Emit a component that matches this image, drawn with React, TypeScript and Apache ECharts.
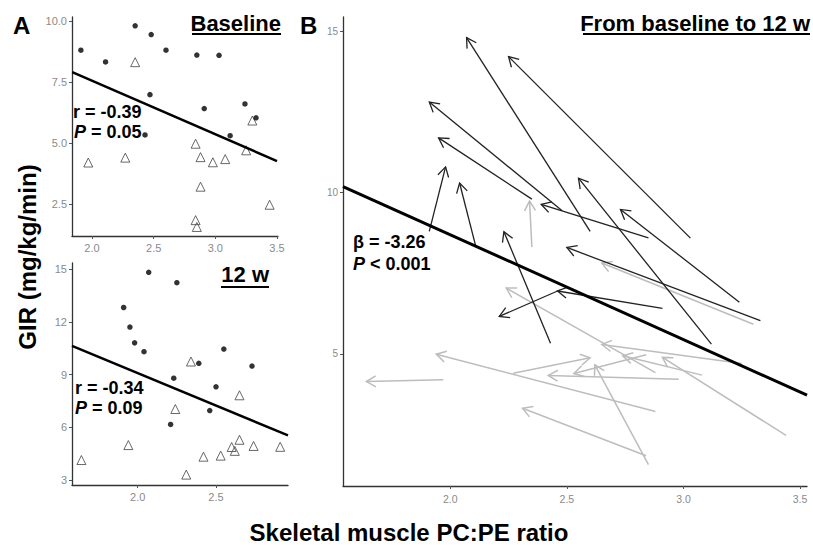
import React, { useEffect, useRef } from 'react';
import * as echarts from 'echarts';

// Intervention group (filled dots / dark arrows): baseline -> 12 w
const darkBaseX = [2.60, 3.03, 2.48, 2.35, 2.85, 1.91, 2.11, 3.12, 3.24, 2.43, 2.47, 2.91, 3.33];
const darkBaseY = [8.80, 8.59, 9.44, 9.80, 8.60, 8.80, 8.32, 5.30, 6.60, 5.33, 6.98, 6.41, 6.03];
const darkW12X = [2.07, 2.25, 1.91, 1.95, 2.39, 1.98, 2.04, 2.55, 2.73, 2.23, 2.21, 2.46, 2.50];
const darkW12Y = [14.81, 14.22, 12.81, 11.70, 9.64, 10.80, 10.30, 10.45, 9.48, 8.79, 6.16, 6.95, 8.30];

// Control group (open triangles / grey arrows): baseline -> 12 w
const greyBaseX = [2.35, 3.30, 2.88, 1.97, 2.88, 2.84, 2.85, 3.44, 2.98, 2.27, 3.25, 2.84, 3.08];
const greyBaseY = [8.31, 5.92, 4.42, 4.20, 3.21, 1.84, 1.56, 2.47, 4.21, 4.40, 4.70, 4.97, 4.34];
const greyW12X = [2.34, 2.65, 2.24, 1.64, 1.94, 2.31, 2.62, 2.91, 2.42, 2.60, 2.65, 2.53, 2.74];
const greyW12Y = [9.74, 7.82, 7.04, 4.14, 4.99, 3.31, 4.66, 4.89, 4.33, 4.88, 5.29, 4.39, 4.94];

// Fitted lines (end points)
const fitBaselineX = [1.84, 3.50];
const fitBaselineY = [7.90, 4.26];
const fitW12X = [1.58, 2.96];
const fitW12Y = [10.63, 5.54];
const fitChangeX = [1.54, 3.53];
const fitChangeY = [10.19, 3.72];

// Tick values
const ticksAtopX = [2.0, 2.5, 3.0, 3.5];
const ticksAtopY = [2.5, 5.0, 7.5, 10.0];
const ticksAbotX = [2.0, 2.5];
const ticksAbotY = [3, 6, 9, 12, 15];
const ticksBX = [2.0, 2.5, 3.0, 3.5];
const ticksBY = [5, 10, 15];

const FONT = '"Liberation Sans", Arial, Helvetica, sans-serif';
const zip = (a: number[], b: number[]) => a.map((v, i) => [v, b[i]]);
const zip4 = (a: number[], b: number[], c: number[], d: number[]) =>
  a.map((v, i) => [v, b[i], c[i], d[i]]);

function axisBase(custom: number[], fmt: (v: number) => string, fontSize: number, margin: number) {
  return {
    type: 'value',
    splitLine: { show: false },
    axisLine: { show: true, onZero: false, lineStyle: { color: '#333', width: 1.3 } },
    axisTick: { show: true, length: 3, customValues: custom, lineStyle: { color: '#555', width: 1 } },
    axisLabel: {
      customValues: custom,
      formatter: (v: number) => fmt(v),
      color: '#8a8a8a',
      fontSize,
      fontFamily: FONT,
      margin,
    },
  };
}

function arrowRender(color: string, width: number) {
  return (params: any, api: any) => {
    const p0 = api.coord([api.value(0), api.value(1)]);
    const p1 = api.coord([api.value(2), api.value(3)]);
    const ang = Math.atan2(p1[1] - p0[1], p1[0] - p0[0]);
    const L = 11;
    const a = Math.PI / 6;
    const b1 = [p1[0] - L * Math.cos(ang - a), p1[1] - L * Math.sin(ang - a)];
    const b2 = [p1[0] - L * Math.cos(ang + a), p1[1] - L * Math.sin(ang + a)];
    return {
      type: 'group',
      children: [
        {
          type: 'line',
          shape: { x1: p0[0], y1: p0[1], x2: p1[0], y2: p1[1] },
          style: { stroke: color, lineWidth: width, fill: 'none' },
        },
        {
          type: 'polyline',
          shape: { points: [b1, p1, b2] },
          style: { stroke: color, lineWidth: width, fill: 'none' },
        },
      ],
    };
  };
}

function txt(x: number, y: number, text: string, font: string, align = 'left', extra: any = {}) {
  return {
    type: 'text',
    x,
    y,
    silent: true,
    ...extra,
    style: {
      text,
      font,
      fill: '#000',
      align,
      verticalAlign: 'middle',
      textAlign: align,
      textVerticalAlign: 'middle',
    },
  };
}

function uline(x1: number, x2: number, y: number) {
  return {
    type: 'line',
    silent: true,
    shape: { x1, y1: y, x2, y2: y },
    style: { stroke: '#000', lineWidth: 2 },
  };
}

export default function App() {
  const ref = useRef<HTMLDivElement>(null);
  useEffect(() => {
    if (!ref.current) return;
    const chart = echarts.init(ref.current, undefined, { renderer: 'svg' });
    const f1 = (v: number) => v.toFixed(1);
    const f0 = (v: number) => String(Math.round(v));
    const titleFont = `bold 22px ${FONT}`;
    const statFont = `bold 18px ${FONT}`;
    const statItalic = `italic bold 18px ${FONT}`;
    const option: any = {
      animation: false,
      grid: [
        { left: 72, top: 17, width: 206, height: 219 },
        { left: 72, top: 263, width: 216, height: 222 },
        { left: 343, top: 17, width: 464, height: 469 },
      ],
      xAxis: [
        { ...axisBase(ticksAtopX, f1, 11, 6), gridIndex: 0, min: 1.838, max: 3.508 },
        { ...axisBase(ticksAbotX, f1, 11, 6), gridIndex: 1, min: 1.58, max: 2.96 },
        { ...axisBase(ticksBX, f1, 10.5, 7), gridIndex: 2, min: 1.54, max: 3.53 },
      ],
      yAxis: [
        { ...axisBase(ticksAtopY, f1, 11, 5), gridIndex: 0, min: 1.19, max: 10.16 },
        { ...axisBase(ticksAbotY, f0, 11, 5), gridIndex: 1, min: 2.72, max: 15.34 },
        { ...axisBase(ticksBY, f0, 10, 5), gridIndex: 2, min: 0.9, max: 15.45 },
      ],
      series: [
        {
          type: 'scatter', xAxisIndex: 0, yAxisIndex: 0,
          data: zip(greyBaseX, greyBaseY), symbol: 'triangle', symbolSize: 9,
          itemStyle: { color: 'rgba(255,255,255,0)', borderColor: '#444', borderWidth: 1 }, z: 2,
        },
        {
          type: 'scatter', xAxisIndex: 0, yAxisIndex: 0,
          data: zip(darkBaseX, darkBaseY), symbol: 'circle', symbolSize: 5.5,
          itemStyle: { color: '#000' }, z: 3,
        },
        {
          type: 'line', xAxisIndex: 0, yAxisIndex: 0, data: zip(fitBaselineX, fitBaselineY),
          symbol: 'none', lineStyle: { color: '#000', width: 2.5 }, z: 4,
        },
        {
          type: 'scatter', xAxisIndex: 1, yAxisIndex: 1,
          data: zip(greyW12X, greyW12Y), symbol: 'triangle', symbolSize: 9,
          itemStyle: { color: 'rgba(255,255,255,0)', borderColor: '#444', borderWidth: 1 }, z: 2,
        },
        {
          type: 'scatter', xAxisIndex: 1, yAxisIndex: 1,
          data: zip(darkW12X, darkW12Y), symbol: 'circle', symbolSize: 5.5,
          itemStyle: { color: '#000' }, z: 3,
        },
        {
          type: 'line', xAxisIndex: 1, yAxisIndex: 1, data: zip(fitW12X, fitW12Y),
          symbol: 'none', lineStyle: { color: '#000', width: 2.5 }, z: 4,
        },
        {
          type: 'custom', xAxisIndex: 2, yAxisIndex: 2,
          data: zip4(greyBaseX, greyBaseY, greyW12X, greyW12Y),
          encode: { x: [0, 2], y: [1, 3] },
          renderItem: arrowRender('#bdbdbd', 1.5), z: 2, silent: true,
        },
        {
          type: 'custom', xAxisIndex: 2, yAxisIndex: 2,
          data: zip4(darkBaseX, darkBaseY, darkW12X, darkW12Y),
          encode: { x: [0, 2], y: [1, 3] },
          renderItem: arrowRender('#222', 1.3), z: 3, silent: true,
        },
        {
          type: 'line', xAxisIndex: 2, yAxisIndex: 2, data: zip(fitChangeX, fitChangeY),
          symbol: 'none', lineStyle: { color: '#000', width: 3 }, z: 4,
        },
      ],
      graphic: [
        txt(13, 25, 'A', `bold 24px ${FONT}`),
        txt(300, 25, 'B', `bold 24px ${FONT}`),
        txt(281, 23, 'Baseline', titleFont, 'right'),
        uline(192, 281, 34),
        txt(269, 274, '12 w', titleFont, 'right'),
        uline(221, 269, 287),
        txt(810, 23, 'From baseline to 12 w', titleFont, 'right'),
        uline(583, 810, 34),
        txt(73, 112, 'r = -0.39', statFont),
        txt(74, 132, 'P', statItalic),
        txt(86, 132, ' = 0.05', statFont),
        txt(75, 388, 'r = -0.34', statFont),
        txt(75, 408, 'P', statItalic),
        txt(87, 408, ' = 0.09', statFont),
        txt(353, 242, 'β = -3.26', statFont),
        txt(353, 264, 'P', statItalic),
        txt(365, 264, ' < 0.001', statFont),
        txt(27, 257, 'GIR (mg/kg/min)', `bold 24px ${FONT}`, 'center', { rotation: Math.PI / 2 }),
        txt(409, 532, 'Skeletal muscle PC:PE ratio', `bold 24px ${FONT}`, 'center'),
      ],
    };
    chart.setOption(option);
    return () => chart.dispose();
  }, []);
  return (
    <div
      ref={ref}
      style={{ position: 'fixed', left: 0, top: 0, width: 813, height: 549, background: '#fff' }}
    />
  );
}
